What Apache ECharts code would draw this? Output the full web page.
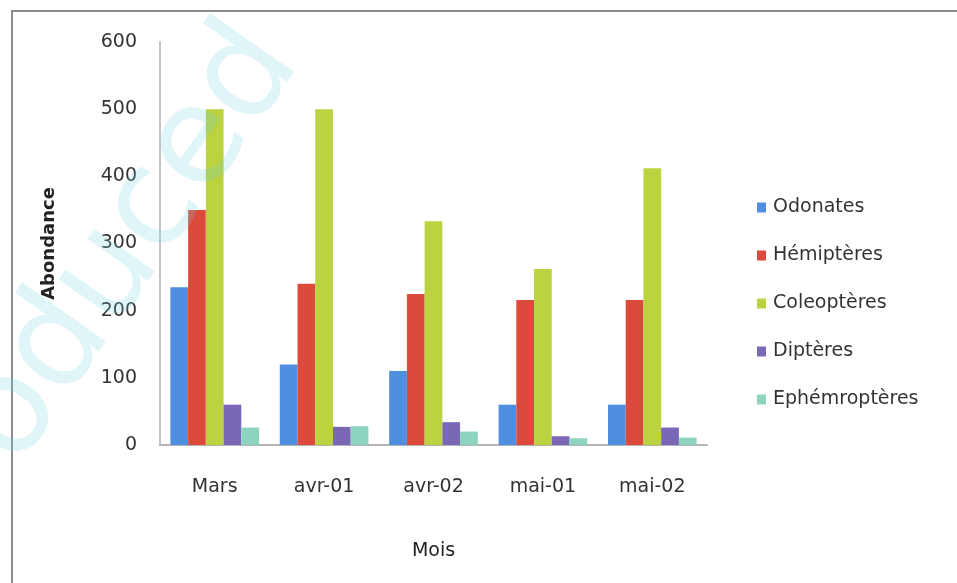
<!DOCTYPE html>
<html>
<head>
<meta charset="utf-8">
<script src="https://cdn.jsdelivr.net/npm/echarts@6/dist/echarts.min.js"></script>
<style>
  html, body { margin: 0; padding: 0; background: #ffffff; }
  #chart { width: 957px; height: 583px; }
</style>
</head>
<body>
<div id="chart"></div>
<script>
// Monthly abundance of aquatic insect orders
const months = ['Mars', 'avr-01', 'avr-02', 'mai-01', 'mai-02'];
const odonates = [235, 120, 110, 60, 60];
const hemipteres = [350, 240, 225, 216, 216];
const coleopteres = [500, 500, 333, 262, 412];
const dipteres = [60, 27, 34, 13, 26];
const ephemeropteres = [26, 28, 20, 10, 11];
const yTicks = [0, 100, 200, 300, 400, 500, 600];

const seriesDefs = [
  { name: 'Odonates', data: odonates, color: '#4f8ee0' },
  { name: 'Hémiptères', data: hemipteres, color: '#dc4a3c' },
  { name: 'Coleoptères', data: coleopteres, color: '#bcd240' },
  { name: 'Diptères', data: dipteres, color: '#7a68b6' },
  { name: 'Ephémroptères', data: ephemeropteres, color: '#8dd4c0' }
];

const font = 'DejaVu Sans';
const chart = echarts.init(document.getElementById('chart'), null, { renderer: 'canvas' });

chart.setOption({
  animation: false,
  backgroundColor: '#ffffff',
  textStyle: { fontFamily: font },
  grid: { left: 160, right: 250, top: 42, bottom: 138, containLabel: false },
  legend: {
    orient: 'vertical',
    left: 752,
    top: 193,
    itemWidth: 9,
    itemHeight: 10,
    itemGap: 29,
    icon: 'rect',
    textStyle: { fontFamily: font, fontSize: 19, color: '#333333', padding: [0, 0, 0, 2] },
    data: seriesDefs.map(s => s.name)
  },
  xAxis: {
    type: 'category',
    data: months,
    name: 'Mois',
    nameLocation: 'middle',
    nameGap: 97,
    nameTextStyle: { fontFamily: font, fontSize: 19, color: '#222222' },
    axisLine: { show: true, lineStyle: { color: '#b4b4b4', width: 2 } },
    axisTick: { show: false },
    axisLabel: { margin: 33, fontFamily: font, fontSize: 19, color: '#333333' }
  },
  yAxis: {
    type: 'value',
    min: yTicks[0],
    max: yTicks[yTicks.length - 1],
    interval: 100,
    name: 'Abondance',
    nameLocation: 'middle',
    nameGap: 102,
    nameTextStyle: { fontFamily: font, fontSize: 18, fontWeight: 'bold', color: '#222222' },
    axisLine: { show: true, lineStyle: { color: '#c4c4c4', width: 2 } },
    axisTick: { show: false },
    splitLine: { show: false },
    axisLabel: { margin: 23, fontFamily: font, fontSize: 19, color: '#333333' }
  },
  series: seriesDefs.map(s => ({
    name: s.name,
    type: 'bar',
    data: s.data,
    barGap: '0%',
    barCategoryGap: '19%',
    itemStyle: { color: s.color }
  })),
  graphic: [
    {
      type: 'rect',
      shape: { x: 12, y: 11, width: 960, height: 600 },
      style: { fill: 'none', stroke: '#8c8c8c', lineWidth: 2 },
      silent: true,
      z: 100
    },
    {
      type: 'text',
      x: 115,
      y: 267,
      rotation: 55 * Math.PI / 180,
      style: {
        text: 'roduced',
        fontFamily: font,
        fontSize: 135,
        fill: 'rgba(110, 210, 222, 0.22)',
        textAlign: 'center',
        textVerticalAlign: 'middle'
      },
      silent: true,
      z: 101
    }
  ]
});
</script>
</body>
</html>
